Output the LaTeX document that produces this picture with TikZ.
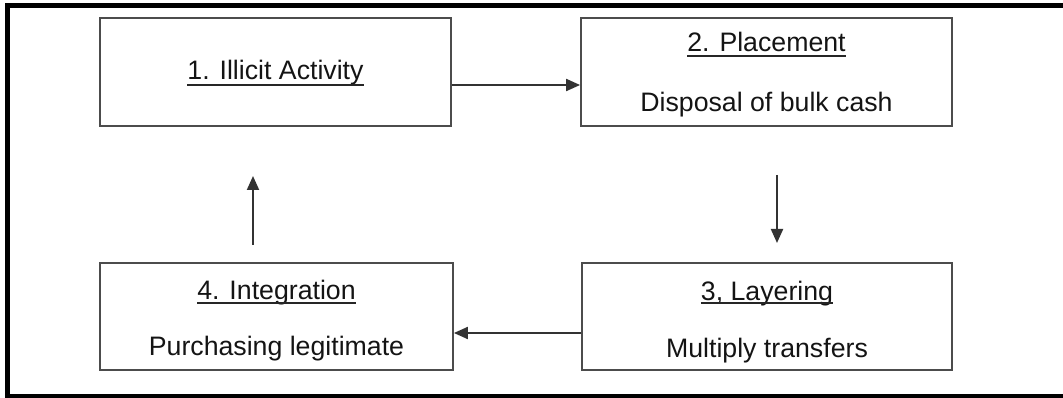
\documentclass[tikz,border=0pt]{standalone}
\usepackage{fontspec}
\setmainfont{Liberation Sans}
\usetikzlibrary{arrows.meta}
\tikzset{
  stepbox/.style={draw=black!70, line width=1.8pt, rectangle, inner sep=0pt},
  lbl/.style={anchor=base, inner sep=0pt, font=\fontsize{26.7}{30}\selectfont, text=black!92},
  ul/.style={draw=black!85, line width=1.5pt},
  arr/.style={draw=black!80, line width=2pt, -{Triangle[length=14pt,width=12pt]}},
  frame/.style={draw=black, line width=4.5pt}
}
\begin{document}
\begin{tikzpicture}[x=1pt,y=-1pt]
\useasboundingbox (0,0) rectangle (1063,398);
\clip (0,0) rectangle (1063,398);
\draw[frame] (1080,5.5) -- (7.5,5.5) -- (7.5,396) -- (1080,396);
% boxes
\node[stepbox, minimum width=351pt, minimum height=108pt] (b1) at (275.5,72) {};
\node[stepbox, minimum width=371pt, minimum height=108pt] (b2) at (766.5,72) {};
\node[stepbox, minimum width=370pt, minimum height=107pt] (b3) at (767,316.5) {};
\node[stepbox, minimum width=353pt, minimum height=107pt] (b4) at (276.5,316.5) {};
% texts
\node[lbl] (t1) at (275.5,80) {1. Illicit Activity};
\draw[ul] ([yshift=-5pt]t1.base west) -- ([yshift=-5pt]t1.base east);
\node[lbl] (t2) at (766.5,52) {2. Placement};
\draw[ul] ([yshift=-4pt]t2.base west) -- ([yshift=-4pt]t2.base east);
\node[lbl] (t2b) at (766.5,112) {Disposal of bulk cash};
\node[lbl] (t3) at (767,300) {3, Layering};
\draw[ul] ([yshift=-3pt]t3.base west) -- ([yshift=-3pt]t3.base east);
\node[lbl] (t3b) at (767,357) {Multiply transfers};
\node[lbl] (t4) at (276.5,299) {4. Integration};
\draw[ul] ([yshift=-4pt]t4.base west) -- ([yshift=-4pt]t4.base east);
\node[lbl] (t4b) at (276.5,355) {Purchasing legitimate};
% connectors
\draw[arr] ([yshift=-13pt]b1.east) -- ([yshift=-13pt]b2.west);
\coordinate (d1) at (777,175);
\coordinate (d2) at (777,243);
\draw[arr] (d1) -- (d2);
\draw[arr] ([yshift=-16.5pt]b3.west) -- ([yshift=-16.5pt]b4.east);
\coordinate (u1) at (253,245);
\coordinate (u2) at (253,176);
\draw[arr] (u1) -- (u2);
\end{tikzpicture}
\end{document}
